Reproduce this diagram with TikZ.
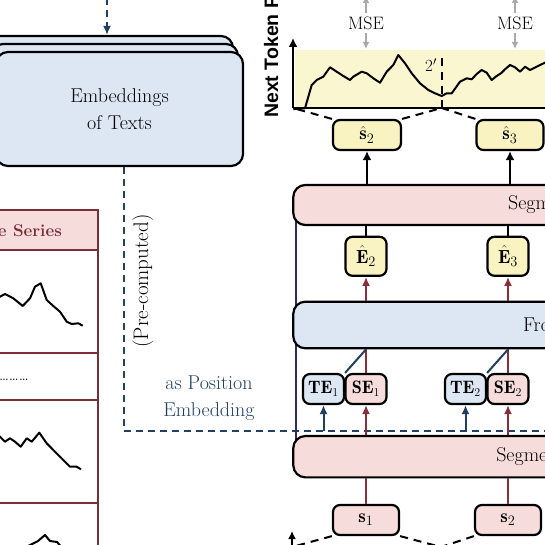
\documentclass[tikz,border=0pt]{standalone}
\usepackage{fontspec}
\newfontfamily\axisfont{Liberation Sans}
\usetikzlibrary{arrows.meta, positioning, calc}
\definecolor{EmbBlue}{HTML}{DCE7F3}
\definecolor{SegPink}{HTML}{F6DCDB}
\definecolor{TokYellow}{HTML}{F8F3C1}
\definecolor{PlotYellow}{HTML}{FAF6CF}
\definecolor{PosNavy}{HTML}{203F63}
\definecolor{SegRed}{HTML}{8A2E3B}
\definecolor{TsRed}{HTML}{7A2F38}
\definecolor{LossGray}{HTML}{A9A9A9}
\definecolor{FrameNavy}{HTML}{2D2B6C}
\tikzset{
    bigbox/.style={
        draw=black,
        line width=2.2pt,
        rounded corners=12pt,
        fill=#1,
        font=\fontsize{20}{27}\selectfont,
        align=center,
        inner sep=0pt
    },
    bigbox/.default=SegPink,
    tokbox/.style={
        draw=black,
        line width=2.2pt,
        rounded corners=7pt,
        fill=#1,
        font=\fontsize{19}{22}\selectfont,
        minimum height=30pt,
        inner sep=0pt
    },
    tokbox/.default=TokYellow,
    uparrow/.style={
        -{Latex[length=9pt,width=9pt]},
        line width=2.5pt,
        black
    },
    redarrow/.style={
        -{Latex[length=9pt,width=8pt]},
        line width=2pt,
        SegRed
    },
    redline/.style={line width=2pt, SegRed},
    navyarrow/.style={
        -{Latex[length=9pt,width=8pt]},
        line width=2pt,
        PosNavy
    },
    posdash/.style={line width=2.5pt, PosNavy, dash pattern=on 7pt off 5pt},
    zoomdash/.style={line width=2pt, black, dash pattern=on 8pt off 6pt},
    lossarrow/.style={
        -{Latex[length=7pt,width=7pt]},
        line width=2pt,
        LossGray
    },
    tsframe/.style={draw=TsRed, line width=2.5pt},
    series/.style={line width=2pt, line join=round, black}
}

\begin{document}
\begin{tikzpicture}[x=1pt, y=-1pt]
        \useasboundingbox (0,0) rectangle (545,545);
        \clip (0,0) rectangle (545,545);

        % Text embeddings
        \coordinate (txtin) at (107,-2);
        \node[bigbox=EmbBlue, minimum width=247pt, minimum height=114pt] (embback) at (109.5,93) {};
        \node[bigbox=EmbBlue, minimum width=247pt, minimum height=114pt] (embmid) at (114.5,101) {};
        \node[bigbox=EmbBlue, minimum width=247pt, minimum height=114pt] (embfront) at (119.5,109) {Embeddings\\of Texts};
        \draw[navyarrow, posdash] (txtin) -- (txtin |- embback.north);

        % Position embedding path
        \coordinate (pecorner) at (124,431);
        \coordinate (peend) at (560,431);
        \draw[posdash] (pecorner |- embfront.south) -- (pecorner) -- (peend);
        \node[rotate=90, font=\fontsize{21}{25}\selectfont] (precomp) at (143,281) {(Pre-computed)};
        \node[PosNavy, align=center, font=\fontsize{20}{27}\selectfont] (posemb) at (209,398) {as Position\\Embedding};

        % Time series panel
        \draw[tsframe, fill=SegPink] (-10,210) rectangle (98,250);
        \draw[tsframe] (-10,250) rectangle (98,353);
        \draw[tsframe] (-10,353) rectangle (98,400);
        \draw[tsframe] (-10,400) rectangle (98,503);
        \draw[tsframe] (-10,503) rectangle (98,560);
        \node[TsRed, anchor=base east, inner sep=0pt, font=\fontsize{17}{20}\selectfont\bfseries] (tshead) at (62,236) {Time Series};
        \node[anchor=base east, inner sep=0pt, font=\fontsize{17}{20}\selectfont] (tsdots) at (29,380) {\ldots\ldots\ldots};
        \draw[series] plot coordinates {(-5,300) (0,296.7) (5,294) (13.3,298.3) (22.7,306) (30,298.3) (35,286.7) (40.7,283.3) (46.7,300) (53.3,306) (60,311.7) (66.7,321.7) (71.7,324) (78.3,323.3) (82.7,325.7)};
        \draw[series] plot coordinates {(-5,433) (0,436.7) (5,441.7) (10,438.3) (15,441.7) (20.7,446.7) (26.7,438.3) (31.7,441.7) (39.3,432.7) (46.7,443.3) (55,451.7) (63.3,460) (70,466.7) (76.7,466.7) (81,469.3)};
        \draw[series] plot coordinates {(20,550) (30,545) (38,541) (45,535) (50,541) (57,542) (64,550)};

        % Next token plot
        \node[rotate=90, anchor=base west, inner sep=0pt, font=\axisfont\fontsize{19.5}{22}\selectfont\bfseries] (ntplabel) at (278,118) {Next Token Prediction};
        \coordinate (porigin) at (293,108);
        \coordinate (pcut) at (441.7,108);
        \coordinate (ptop) at (0,49);
        \coordinate (lossup) at (0,-4);
        \fill[PlotYellow] (295,50) rectangle (560,107);
        \draw[series] plot coordinates {(293.3,109.3) (300,108.3) (305,108.3) (311.7,85) (316.7,80) (323.3,76.7) (330,67.3) (336.7,71.7) (343.3,76) (350,80) (353.3,76.7) (361.7,71.7) (366.7,73.3) (373.3,78.3) (380,82.7) (386.7,71.7) (393.3,65) (398.3,55) (405,63.3) (411.7,73.3) (420,83.3) (428.3,90) (435,93.3) (441.7,96) (446.7,93.3) (451.7,93.3) (460,81.7) (466.7,78.3) (471.7,79.3) (476.7,74) (481.7,70) (486.7,72.7) (491.7,80) (496.7,76) (501.7,72.7) (505,69.3) (510,65) (515,67.3) (520,71.7) (525,66.7) (530,70) (536.7,66.7) (540,65) (545,62.7) (552,60)};
        \draw[zoomdash] (pcut) -- ++(0,-50);
        \node[font=\fontsize{17}{20}\selectfont] (cutlbl) at (431,65) {2$'$};
        \draw[line width=2.5pt] (porigin) -- (560,108);
        \draw[uparrow] (porigin) -- (293,38);
        \node[font=\fontsize{18}{21}\selectfont] (mse2) at (366,23) {MSE};
        \node[font=\fontsize{18}{21}\selectfont] (mse3) at (515,23) {MSE};
        \foreach \m in {mse2, mse3} {
            \draw[lossarrow] (\m.south) -- (\m.south |- ptop);
            \draw[lossarrow] (\m.north) -- (\m.north |- lossup);
        }

        % Model frame
        \draw[FrameNavy, line width=1.2pt] (296,200) -- (296,470);

        % Model blocks
        \node[bigbox=SegPink, minimum width=586pt, minimum height=40pt] (segproj) at (586.3,205) {Segment Projection};
        \node[bigbox=EmbBlue, minimum width=559pt, minimum height=46.6pt] (llm) at (572.8,325) {Frozen LLM};
        \node[bigbox=SegPink, minimum width=571pt, minimum height=41.3pt] (segemb) at (578.8,456.7) {Segment Embedding};

        % Tokens
        \node[tokbox=TokYellow, minimum width=68pt] (shat2) at (367,135) {$\hat{\mathbf{s}}_2$};
        \node[tokbox=TokYellow, minimum width=67pt] (shat3) at (510,135) {$\hat{\mathbf{s}}_3$};
        \node[tokbox=TokYellow, minimum width=41pt, minimum height=39pt] (ehat2) at (366,256.3) {$\hat{\mathbf{E}}_2$};
        \node[tokbox=TokYellow, minimum width=41pt, minimum height=39pt] (ehat3) at (508,256.3) {$\hat{\mathbf{E}}_3$};
        \node[tokbox=EmbBlue, minimum width=41pt, font=\fontsize{18}{21}\selectfont] (te1) at (323.5,389) {$\mathbf{TE}_1$};
        \node[tokbox=SegPink, minimum width=41pt, font=\fontsize{18}{21}\selectfont] (se1) at (366,389) {$\mathbf{SE}_1$};
        \node[tokbox=EmbBlue, minimum width=41pt, font=\fontsize{18}{21}\selectfont] (te2) at (465.5,389) {$\mathbf{TE}_2$};
        \node[tokbox=SegPink, minimum width=41pt, font=\fontsize{18}{21}\selectfont] (se2) at (508,389) {$\mathbf{SE}_2$};
        \node[tokbox=SegPink, minimum width=66pt] (s1) at (366,520) {$\mathbf{s}_1$};
        \node[tokbox=SegPink, minimum width=66pt] (s2) at (508,520) {$\mathbf{s}_2$};

        % Connections
        \foreach \i/\j in {2/1, 3/2} {
            \draw[uparrow] (shat\i |- segproj.north) -- (shat\i.south);
            \draw[line width=2.5pt] (ehat\i.north) -- (ehat\i |- segproj.south);
            \draw[redarrow] (ehat\i |- llm.north) -- (ehat\i.south);
            \draw[redline] (se\j.north) -- (se\j |- llm.south);
            \draw[PosNavy, line width=2pt] (te\j.north east) -- (se\j |- llm.south);
            \draw[navyarrow] (te\j |- pecorner) -- (te\j.south);
            \draw[redarrow] (se\j |- segemb.north) -- (se\j.south);
            \draw[redline] (s\j.north) -- (s\j |- segemb.south);
        }

        % Zoom guides
        \draw[zoomdash] (shat2.north west) -- (porigin);
        \draw[zoomdash] (shat2.north east) -- (pcut);
        \draw[zoomdash] (shat3.north west) -- (pcut);
        \coordinate (borigin) at (292,547);
        \coordinate (bcut) at (441,547);
        \draw[zoomdash] (s1.south west) -- (borigin);
        \draw[zoomdash] (s1.south east) -- (bcut);
        \draw[zoomdash] (s2.south west) -- (bcut);
        \draw[-{Latex[length=8pt,width=8pt]}, line width=2pt] (292,560) -- (292,531);
\end{tikzpicture}
\end{document}
